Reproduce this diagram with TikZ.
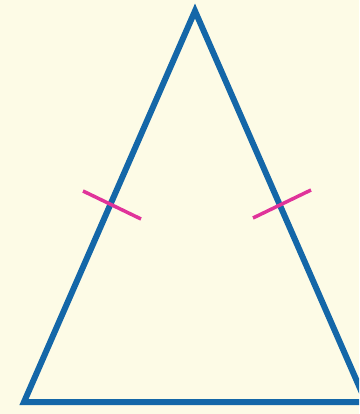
\documentclass[tikz,border=0pt]{standalone}
\usetikzlibrary{calc}
\definecolor{bgcream}{HTML}{FDFBE6}
\definecolor{triblue}{HTML}{1467A8}
\definecolor{tickpink}{HTML}{E0339A}
\tikzset{
  side/.style={draw=triblue, line width=6pt, line join=miter},
  tickmark/.style={draw=tickpink, line width=3.5pt},
}
\begin{document}
\begin{tikzpicture}[x=1pt,y=-1pt]
\fill[bgcream] (0,0) rectangle (359,414);
\useasboundingbox (0,0) rectangle (359,414);
\clip (0,0) rectangle (359,414);
\coordinate (A) at (195,11);
\coordinate (B) at (24,402);
\coordinate (C) at (366,402);
\draw[side] (A) -- (B) -- (C) -- cycle;
\coordinate (L1) at (83,191);
\coordinate (L2) at (141,219);
\coordinate (R1) at (253,218);
\coordinate (R2) at (311,190);
\draw[tickmark] (L1) -- (L2);
\draw[tickmark] (R1) -- (R2);
\end{tikzpicture}
\end{document}
